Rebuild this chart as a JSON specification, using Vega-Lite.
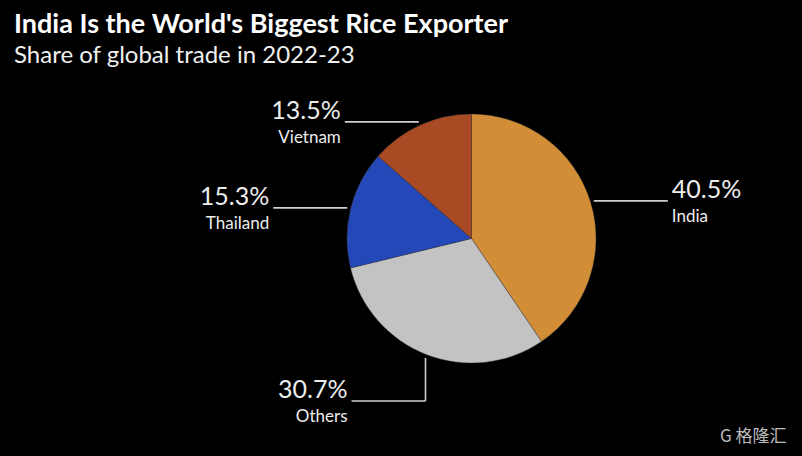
{
  "$schema": "https://vega.github.io/schema/vega-lite/v6.json",
  "width": 802,
  "height": 456,
  "autosize": {"type": "none"},
  "padding": 0,
  "background": "#000000",
  "title": {
    "text": "India Is the World's Biggest Rice Exporter",
    "subtitle": "Share of global trade in 2022-23",
    "anchor": "start",
    "frame": "group",
    "dx": 14,
    "offset": -69,
    "font": "Lato",
    "fontWeight": "bold",
    "fontSize": 27,
    "color": "#ffffff",
    "subtitleFont": "Lato",
    "subtitleFontSize": 24,
    "subtitleColor": "#f0f0f0",
    "subtitlePadding": 5
  },
  "config": {"view": {"stroke": null}},
  "data": {
    "values": [
      {"country": "India", "share": 40.5},
      {"country": "Others", "share": 30.7},
      {"country": "Thailand", "share": 15.3},
      {"country": "Vietnam", "share": 13.5}
    ]
  },
  "transform": [
    {"joinaggregate": [{"op": "sum", "field": "share", "as": "total"}]},
    {"window": [{"op": "sum", "field": "share", "as": "cum"}], "sort": [{"field": "country", "order": "ascending"}], "frame": [null, 0]},
    {"calculate": "2*PI*(datum.cum - datum.share/2)/datum.total", "as": "ang"},
    {"calculate": "128*sin(datum.ang)", "as": "sx"},
    {"calculate": "-128*cos(datum.ang)", "as": "sy"},
    {"calculate": "sin(datum.ang) >= 0 ? 1 : -1", "as": "side"},
    {"calculate": "datum.sy + (cos(datum.ang) < -0.8 ? 43 : 0)", "as": "ey"},
    {"calculate": "datum.sx + datum.side*74", "as": "endx"},
    {"calculate": "datum.endx + datum.side*4", "as": "tx"},
    {"calculate": "format(datum.share, '.1f') + '%'", "as": "pct"}
  ],
  "layer": [
    {
      "mark": {"type": "arc", "outerRadius": 124.5, "stroke": "#3a3a3a", "strokeWidth": 0.4},
      "encoding": {
        "x": {"datum": 0, "type": "quantitative", "scale": {"domain": [-471.5, 330.5], "nice": false, "zero": false}, "axis": {"labels": false, "ticks": false, "domain": false, "grid": false, "title": "G 格隆汇", "titleX": 786, "titleAlign": "right", "titleAnchor": "end", "titleFont": "Noto Sans CJK SC", "titleFontSize": 17, "titleFontWeight": "normal", "titleColor": "#bdbdbd", "offset": -30, "titlePadding": 2}},
        "y": {"datum": 0, "type": "quantitative", "scale": {"domain": [-238.5, 217.5], "reverse": true, "nice": false, "zero": false}, "axis": null},
        "theta": {"field": "share", "type": "quantitative", "stack": true},
        "color": {"field": "country", "type": "nominal", "scale": {"domain": ["India", "Others", "Thailand", "Vietnam"], "range": ["#D28E36", "#C3C3C3", "#2448B8", "#A84B25"]}, "legend": null}
      }
    },
    {
      "mark": {"type": "rule", "color": "#cfcfcf", "strokeWidth": 1.6},
      "encoding": {
        "x": {"field": "sx", "type": "quantitative"},
        "y": {"field": "sy", "type": "quantitative"},
        "x2": {"field": "sx"},
        "y2": {"field": "ey"}
      }
    },
    {
      "mark": {"type": "rule", "color": "#cfcfcf", "strokeWidth": 1.6},
      "encoding": {
        "x": {"field": "sx", "type": "quantitative"},
        "y": {"field": "ey", "type": "quantitative"},
        "x2": {"field": "endx"},
        "y2": {"field": "ey"}
      }
    },
    {
      "mark": {"type": "text", "font": "Lato", "fontSize": 25, "color": "#ececec", "baseline": "alphabetic", "dy": -3, "align": {"expr": "datum.side > 0 ? 'left' : 'right'"}},
      "encoding": {
        "x": {"field": "tx", "type": "quantitative"},
        "y": {"field": "ey", "type": "quantitative"},
        "text": {"field": "pct"}
      }
    },
    {
      "mark": {"type": "text", "font": "Lato", "fontSize": 17, "color": "#ececec", "baseline": "alphabetic", "dy": 21, "align": {"expr": "datum.side > 0 ? 'left' : 'right'"}},
      "encoding": {
        "x": {"field": "tx", "type": "quantitative"},
        "y": {"field": "ey", "type": "quantitative"},
        "text": {"field": "country"}
      }
    }
  ]
}
